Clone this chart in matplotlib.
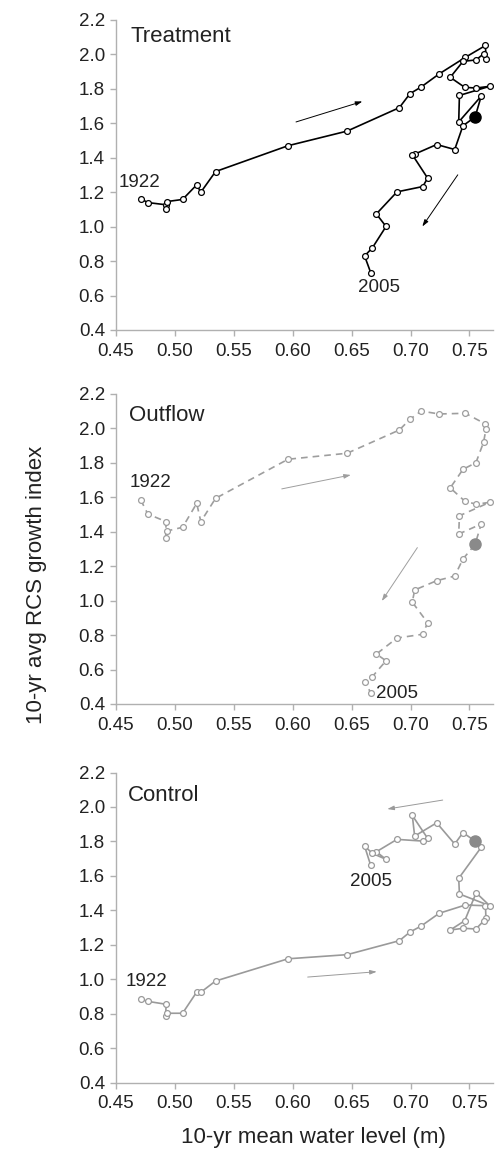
import matplotlib
matplotlib.use("Agg")
import matplotlib.pyplot as plt
import numpy as np

plt.rcParams['font.family'] = ['Liberation Sans', 'DejaVu Sans']

# shared 10-yr mean water level (m)
water_level = [0.471, 0.477, 0.4925, 0.4922, 0.4935, 0.5065, 0.5185, 0.522, 0.5345, 0.596,
               0.6462, 0.6905, 0.6995, 0.709, 0.7243, 0.7465, 0.7636, 0.764, 0.762, 0.7555,
               0.7446, 0.7337, 0.746, 0.7557, 0.7672, 0.7415, 0.7409, 0.76, 0.7548, 0.7445,
               0.7375, 0.7222, 0.7035, 0.7015, 0.7145, 0.7104, 0.6885, 0.671, 0.6792, 0.6676,
               0.661, 0.6662]

treatment = [1.162, 1.140, 1.127, 1.103, 1.146, 1.158, 1.243, 1.200, 1.320, 1.470,
             1.555, 1.691, 1.772, 1.811, 1.887, 1.983, 2.052, 1.976, 2.003, 1.968,
             1.960, 1.867, 1.809, 1.805, 1.815, 1.762, 1.608, 1.758, 1.637, 1.586,
             1.448, 1.477, 1.421, 1.418, 1.282, 1.233, 1.202, 1.074, 1.001, 0.877,
             0.830, 0.733]

outflow = [1.585, 1.503, 1.459, 1.362, 1.405, 1.426, 1.565, 1.459, 1.594, 1.821,
           1.856, 1.991, 2.053, 2.101, 2.084, 2.088, 2.026, 1.995, 1.920, 1.801,
           1.763, 1.655, 1.578, 1.560, 1.571, 1.493, 1.387, 1.445, 1.327, 1.242,
           1.143, 1.116, 1.062, 0.991, 0.872, 0.805, 0.783, 0.690, 0.651, 0.559,
           0.530, 0.466]

control = [0.884, 0.872, 0.855, 0.787, 0.803, 0.803, 0.926, 0.925, 0.990, 1.119,
           1.143, 1.224, 1.274, 1.309, 1.383, 1.431, 1.427, 1.354, 1.338, 1.292,
           1.296, 1.286, 1.340, 1.502, 1.427, 1.495, 1.586, 1.766, 1.802, 1.851,
           1.785, 1.908, 1.831, 1.951, 1.818, 1.802, 1.812, 1.740, 1.696, 1.731,
           1.773, 1.661]

highlight_index = 28  # filled marker

panel_names = ["Treatment", "Outflow", "Control"]
panel_series = [treatment, outflow, control]
panel_colors = ["#000000", "#9e9e9e", "#9a9a9a"]
panel_fill = ["#000000", "#8a8a8a", "#8a8a8a"]
panel_styles = ["-", (0, (4, 3)), "-"]

# arrows (start, end) in data coords
panel_arrows = [
    [((0.6028, 1.608), (0.6591, 1.727)), ((0.7401, 1.301), (0.7100, 1.001))],
    [((0.5907, 1.649), (0.6493, 1.730)), ((0.7058, 1.308), (0.6756, 0.998))],
    [((0.7273, 2.040), (0.6803, 1.988)), ((0.6127, 1.013), (0.6713, 1.044))],
]
# year labels: (text, x, y, ha)
panel_years = [
    [("1922", 0.452, 1.255, "left"), ("2005", 0.6733, 0.648, "center")],
    [("1922", 0.4613, 1.685, "left"), ("2005", 0.6705, 0.462, "left")],
    [("1922", 0.4585, 0.990, "left"), ("2005", 0.6665, 1.570, "center")],
]
title_pos = [(0.4623, 2.103), (0.461, 2.078), (0.4605, 2.069)]

y_ticks = [0.4, 0.6, 0.8, 1.0, 1.2, 1.4, 1.6, 1.8, 2.0, 2.2]
x_ticks = [0.45, 0.50, 0.55, 0.60, 0.65, 0.70, 0.75]

W, H = 497, 1149
fig = plt.figure(figsize=(W / 100, H / 100), dpi=100)

axes_px = [(20, 330), (394, 704), (772.5, 1082.7)]
left_px, right_px = 116, 493
spine_c = "#b0b0b0"
text_c = "#222222"

for i, (top, bot) in enumerate(axes_px):
    ax = fig.add_axes([left_px / W, 1 - bot / H, (right_px - left_px) / W, (bot - top) / H])
    ax.set_xlim(0.45, 0.77)
    ax.set_ylim(0.4, 2.2)
    for s in ["top", "right"]:
        ax.spines[s].set_visible(False)
    for s in ["left", "bottom"]:
        ax.spines[s].set_color(spine_c)
        ax.spines[s].set_linewidth(1.0)
    ax.set_xticks(x_ticks)
    ax.set_xticklabels([f"{v:.2f}" for v in x_ticks])
    ax.set_yticks(y_ticks)
    ax.set_yticklabels([f"{v:.1f}" for v in y_ticks])
    ax.tick_params(direction="out", length=4, width=1, color=spine_c,
                   labelcolor=text_c, labelsize=13.5)
    ax.tick_params(axis="x", pad=5)
    ax.tick_params(axis="y", pad=4)

    ys = panel_series[i]
    col = panel_colors[i]
    ax.plot(water_level, ys, linestyle=panel_styles[i], color=col, lw=1.2,
            marker="o", markersize=4.2, markerfacecolor="white",
            markeredgecolor=col, markeredgewidth=0.9, zorder=3)
    ax.plot([water_level[highlight_index]], [ys[highlight_index]], marker="o",
            markersize=8, color=panel_fill[i], linestyle="none", zorder=4)

    for (s, e) in panel_arrows[i]:
        ax.annotate("", xy=e, xytext=s,
                    arrowprops=dict(arrowstyle="-|>,head_length=0.4,head_width=0.13",
                                    color=col, lw=0.7, shrinkA=0, shrinkB=0))
    for (t, xx, yy, ha) in panel_years[i]:
        ax.text(xx, yy, t, ha=ha, va="center", fontsize=13.5, color=text_c)
    ax.text(title_pos[i][0], title_pos[i][1], panel_names[i], ha="left", va="center",
            fontsize=16, color=text_c)

fig.text(313 / W, 1 - 1137 / H, "10-yr mean water level (m)", ha="center", va="center",
         fontsize=16, color=text_c)
fig.text(37 / W, 1 - 585 / H, "10-yr avg RCS growth index", ha="center", va="center",
         rotation=90, fontsize=16, color=text_c)

fig.savefig("out.png", dpi=100)
